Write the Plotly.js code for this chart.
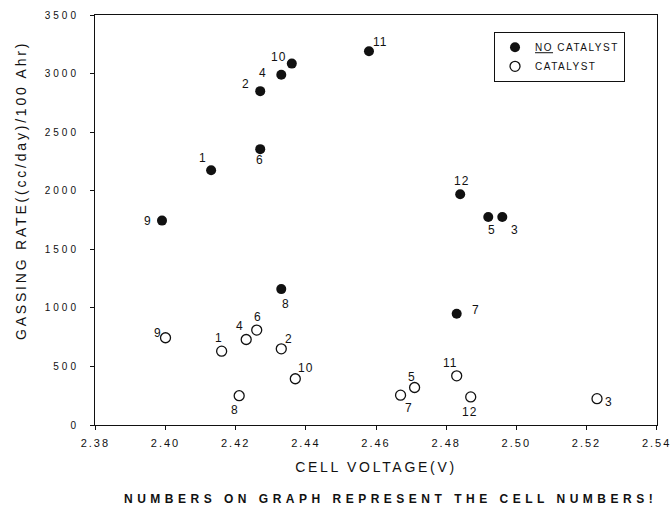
<!DOCTYPE html>
<html>
<head>
<meta charset="utf-8">
<script src="https://cdn.plot.ly/plotly-3.0.1.min.js"></script>
<style>
  html, body { margin: 0; padding: 0; background: #fff; }
  #chart { width: 671px; height: 508px; }
</style>
</head>
<body>
<div id="chart"></div>
<script>
// ---- Data ----
const cells = [1, 2, 3, 4, 5, 6, 7, 8, 9, 10, 11, 12];

// NO CATALYST
const noCatVoltage = [2.413, 2.427, 2.496, 2.433, 2.492, 2.427, 2.483, 2.433, 2.399, 2.436, 2.458, 2.484];
const noCatRate    = [2175, 2850, 1775, 2990, 1775, 2355, 950, 1160, 1745, 3085, 3190, 1970];

// CATALYST
const catVoltage = [2.416, 2.433, 2.523, 2.423, 2.471, 2.426, 2.467, 2.421, 2.400, 2.437, 2.483, 2.487];
const catRate    = [630, 650, 225, 730, 320, 810, 255, 250, 745, 395, 420, 240];

const seriesNames = ['<u>NO</u> CATALYST', 'CATALYST'];
const xTicks = [2.38, 2.40, 2.42, 2.44, 2.46, 2.48, 2.50, 2.52, 2.54];
const yTicks = [0, 500, 1000, 1500, 2000, 2500, 3000, 3500];
const xTitle = 'CELL VOLTAGE(V)';
const yTitle = 'GASSING RATE((cc/day)/100 Ahr)';
const footnote = 'NUMBERS ON GRAPH REPRESENT THE CELL NUMBERS!';

// ---- Label placement (pixel offsets from each point: right, down) ----
const noCatLabelOffset = [[-8,-12],[-14,-7],[13,13],[-18,-2],[4,13],[0,11],[19,-4],[5,15],[-14,0],[-13,-7],[11,-9],[1,-13]];
const catLabelOffset   = [[-3,-13],[8,-10],[12,3],[-6,-13],[-3,-11],[1,-13],[8,13],[-4,14],[-8,-5],[10,-11],[-7,-13],[-1,15]];

const FONT = 'Liberation Sans, Arial, Helvetica, sans-serif';
const INK = '#111';
const sp = (txt, px) => '<span style="letter-spacing:' + px + 'px">' + txt + '</span>';

const traces = [
  {
    type: 'scatter', mode: 'markers', name: sp(seriesNames[0], 1.5),
    x: noCatVoltage, y: noCatRate,
    marker: { symbol: 'circle', size: 10, color: INK },
    hoverinfo: 'skip'
  },
  {
    type: 'scatter', mode: 'markers', name: sp(seriesNames[1], 1.5),
    x: catVoltage, y: catRate,
    marker: { symbol: 'circle-open', size: 10, color: INK, line: { width: 1.3, color: INK } },
    hoverinfo: 'skip'
  }
];

const annotations = [];
function addLabels(xs, ys, offs) {
  for (let i = 0; i < cells.length; i++) {
    annotations.push({
      x: xs[i], y: ys[i], xref: 'x', yref: 'y',
      text: sp(String(cells[i]), 1), showarrow: false,
      xshift: offs[i][0], yshift: -offs[i][1],
      font: { family: FONT, size: 12, color: INK }
    });
  }
}
addLabels(noCatVoltage, noCatRate, noCatLabelOffset);
addLabels(catVoltage, catRate, catLabelOffset);

// y axis title placed as in the reference (off-centre)
annotations.push({
  xref: 'paper', yref: 'paper', x: -0.1317, y: 0.573,
  text: sp(yTitle, 2.8), textangle: -90, showarrow: false,
  xanchor: 'center', yanchor: 'middle',
  font: { family: FONT, size: 14, color: INK }
});
// footnote
annotations.push({
  xref: 'paper', yref: 'paper', x: 0.526, y: -0.1805,
  text: '<b>' + sp(footnote, 4.5) + '</b>', showarrow: false,
  xanchor: 'center', yanchor: 'middle',
  font: { family: FONT, size: 12, color: INK }
});

const layout = {
  width: 671, height: 508,
  margin: { l: 95, r: 14, t: 15, b: 83 },
  paper_bgcolor: '#fff', plot_bgcolor: '#fff',
  showlegend: true,
  legend: {
    x: 0.71, y: 0.959, xanchor: 'left', yanchor: 'top',
    bordercolor: INK, borderwidth: 1, bgcolor: '#fff',
    font: { family: FONT, size: 10, color: INK },
    tracegroupgap: 0
  },
  xaxis: {
    range: [2.3799, 2.5401], tickmode: 'array', tickvals: xTicks,
    ticktext: xTicks.map(v => sp(v.toFixed(2), 2)),
    ticklabeloverflow: 'allow',
    ticks: 'outside', ticklen: 4, tickcolor: INK,
    ticklabelstandoff: 4,
    showline: true, linecolor: INK, linewidth: 1, mirror: true,
    showgrid: false, zeroline: false,
    tickfont: { family: FONT, size: 11, color: INK },
    title: { text: sp(xTitle, 2.7), font: { family: FONT, size: 14, color: INK }, standoff: 13 }
  },
  yaxis: {
    range: [0, 3500], tickmode: 'array', tickvals: yTicks,
    ticktext: yTicks.map(v => sp(String(v), 3)),
    ticks: 'outside', ticklen: 4, tickcolor: INK,
    showline: true, linecolor: INK, linewidth: 1, mirror: true,
    showgrid: false, zeroline: false,
    ticklabelstandoff: 9,
    tickfont: { family: FONT, size: 10, color: INK }
  },
  annotations: annotations
};

Plotly.newPlot('chart', traces, layout, { staticPlot: true, displayModeBar: false });
</script>
</body>
</html>
